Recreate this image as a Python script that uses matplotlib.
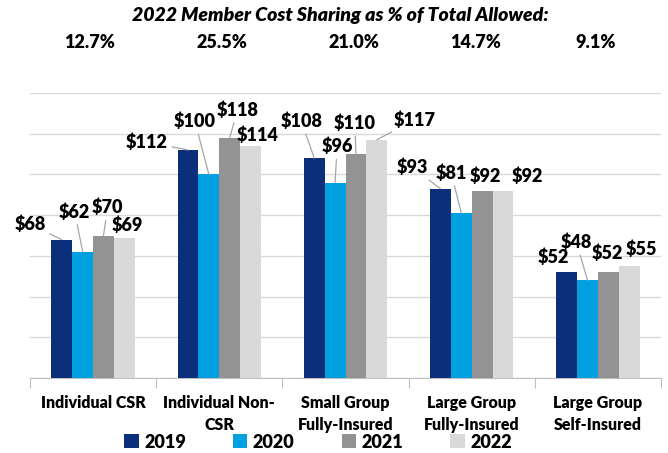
import matplotlib
matplotlib.use("Agg")
import matplotlib.pyplot as plt
import numpy as np

plt.rcParams['font.family'] = ['Lato', 'DejaVu Sans']
W = 'heavy'
plt.rcParams['font.weight'] = W

categories = ["Individual CSR", "Individual Non-\nCSR", "Small Group\nFully-Insured",
              "Large Group\nFully-Insured", "Large Group\nSelf-Insured"]
years = ["2019", "2020", "2021", "2022"]
v2019 = [68, 112, 108, 93, 52]
v2020 = [62, 100, 96, 81, 48]
v2021 = [70, 118, 110, 92, 52]
v2022 = [69, 114, 117, 92, 55]
share_2022 = ["12.7%", "25.5%", "21.0%", "14.7%", "9.1%"]
title = "2022 Member Cost Sharing as % of Total Allowed:"

series = [v2019, v2020, v2021, v2022]
colors = ["#0B2F7A", "#00A0E1", "#939393", "#D9D9D9"]

# label offsets (pixels) from bar top, and whether a leader line is drawn
label_offsets = [
    [(-32, 15, True), (-41, 8, True), (-13, 37, True), (-28, 21, True), (-13, 15, False)],
    [(-8, 40, True), (-14, 53, True), (2, 36, True), (-10, 40, True), (-11, 38, True)],
    [(4, 28, True), (8, 28, True), (-1, 31, True), (3, 14, False), (-1, 19, False)],
    [(3, 12, False), (7, 11, False), (38, 20, True), (24, 14, False), (12, 17, False)],
]

fig = plt.figure(figsize=(6.68, 4.53), dpi=100)
ax = fig.add_axes([30/668, 1-378/453, 631/668, 285/453])

x = np.arange(len(categories))
w = 0.165
for i, (vals, c, yr) in enumerate(zip(series, colors, years)):
    xs = x + (i - 1.5) * w
    ax.bar(xs, vals, width=w, color=c, label=yr, zorder=3)
    for j, v in enumerate(vals):
        dx, dy, lead = label_offsets[i][j]
        kw = {}
        if lead:
            kw['arrowprops'] = dict(arrowstyle='-', color='#A6A6A6', lw=0.9,
                                    shrinkA=1, shrinkB=0)
        ax.annotate(f"${v}", xy=(xs[j], v), xytext=(dx, dy),
                    textcoords='offset pixels', ha='center', va='center',
                    fontsize=13, fontweight=W, color='black', zorder=5, **kw)

ax.set_xlim(-0.5, len(categories) - 0.5)
ax.set_ylim(0, 140)
ax.set_yticks(np.arange(0, 141, 20))
ax.yaxis.grid(True, color='#D9D9D9', lw=1, zorder=0)
ax.tick_params(axis='y', left=False, labelleft=False)
for s in ['left', 'top', 'right']:
    ax.spines[s].set_visible(False)
ax.spines['bottom'].set_color('#BFBFBF')
ax.set_xticks(np.arange(-0.5, len(categories), 1))
ax.set_xticklabels([])
ax.tick_params(axis='x', which='major', length=7, color='#BFBFBF', direction='out')
ax.set_xticks(x, minor=True)
ax.set_xticklabels(categories, minor=True, fontsize=11.5, fontweight=W)
ax.tick_params(axis='x', which='minor', length=0, pad=12)
for t in ax.get_xticklabels(minor=True):
    t.set_linespacing(1.45)

fig.text(340/668, 1-16/453, title, ha='center', va='center', fontsize=14,
         fontweight=W, fontstyle='italic')
share_x = [90, 222, 354, 476, 596]
for sx, s in zip(share_x, share_2022):
    fig.text(sx/668, 1-42/453, s, ha='center', va='center', fontsize=13, fontweight=W)

fig.legend(loc='center', bbox_to_anchor=(318/668, 1-442/453), ncol=4, frameon=False,
           handlelength=0.8, handleheight=0.8, handletextpad=0.3,
           columnspacing=2.6, borderpad=0, prop={'weight': W, 'size': 13})

fig.savefig("out.png", dpi=100)
